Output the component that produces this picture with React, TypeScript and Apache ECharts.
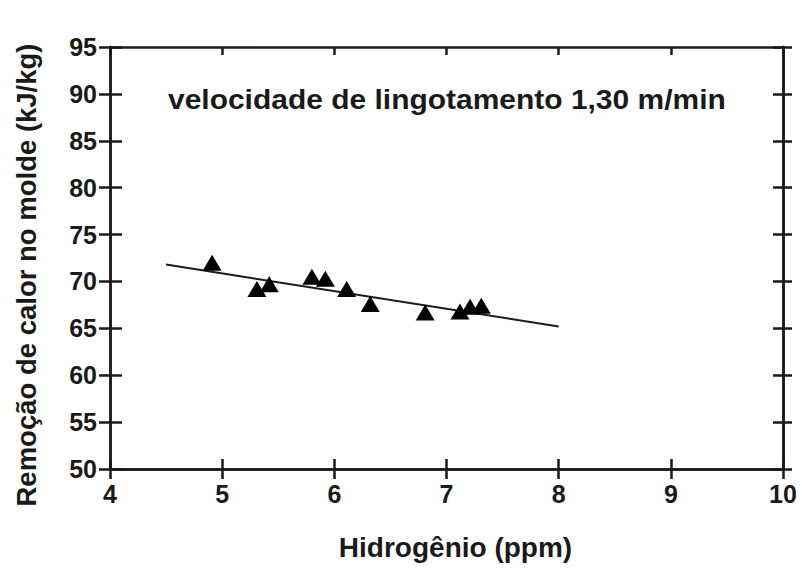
import React, { useEffect, useRef } from "react";
import * as echarts from "echarts";

const hydrogen = [4.91, 5.31, 5.42, 5.8, 5.92, 6.11, 6.32, 6.81, 7.12, 7.21, 7.31];
const heatRemoval = [72.0, 69.2, 69.7, 70.5, 70.3, 69.2, 67.6, 66.7, 66.8, 67.3, 67.4];
const fitX = [4.5, 8];
const fitY = [71.8, 65.2];
const xTicks = [4, 5, 6, 7, 8, 9, 10];
const yTicks = [50, 55, 60, 65, 70, 75, 80, 85, 90, 95];
const titleText = "velocidade de lingotamento 1,30 m/min";
const xName = "Hidrogênio (ppm)";
const yName = "Remoção de calor no molde (kJ/kg)";

const INK = "#1a1a1a";
const FONT = "'Liberation Sans', Arial, sans-serif";

export default function App() {
  const ref = useRef<HTMLDivElement>(null);
  useEffect(() => {
    document.body.style.margin = "0";
    const chart = echarts.init(ref.current!, undefined, { renderer: "svg" });
    const xMin = xTicks[0];
    const xMax = xTicks[xTicks.length - 1];
    const xInt = xTicks[1] - xTicks[0];
    const yMin = yTicks[0];
    const yMax = yTicks[yTicks.length - 1];
    const yInt = yTicks[1] - yTicks[0];
    const baseX = {
      type: "value",
      min: xMin,
      max: xMax,
      interval: xInt,
      splitLine: { show: false },
      axisLine: { show: true, onZero: false, lineStyle: { color: INK, width: 2.5 } },
    };
    const baseY = {
      type: "value",
      min: yMin,
      max: yMax,
      interval: yInt,
      splitLine: { show: false },
      axisLine: { show: true, onZero: false, lineStyle: { color: INK, width: 2.5 } },
    };
    const tick = (inside: boolean, len: number) => ({
      show: true,
      inside,
      length: len,
      lineStyle: { color: INK, width: 2.5 },
    });
    chart.setOption({
      animation: false,
      backgroundColor: "#ffffff",
      grid: { left: 110, right: 19, top: 47, bottom: 100 },
      xAxis: [
        {
          ...baseX,
          position: "bottom",
          axisTick: tick(false, 10),
          axisLabel: {
            show: true,
            margin: 12,
            color: INK,
            fontFamily: FONT,
            fontSize: 25,
            fontWeight: "bold",
          },
          name: xName,
          nameLocation: "middle",
          nameGap: 64,
          nameTextStyle: {
            color: INK,
            fontFamily: FONT,
            fontSize: 28,
            fontWeight: "bold",
            padding: [0, 0, 0, 18],
          },
        },
        { ...baseX, position: "bottom", axisTick: tick(true, 10), axisLabel: { show: false } },
        { ...baseX, position: "top", axisTick: tick(true, 8), axisLabel: { show: false } },
      ],
      yAxis: [
        {
          ...baseY,
          position: "left",
          axisTick: tick(false, 11),
          axisLabel: {
            show: true,
            margin: 13,
            color: INK,
            fontFamily: FONT,
            fontSize: 25,
            fontWeight: "bold",
          },
          name: yName,
          nameLocation: "middle",
          nameGap: 70,
          nameRotate: 90,
          nameTextStyle: {
            color: INK,
            fontFamily: FONT,
            fontSize: 27.5,
            fontWeight: "bold",
            padding: [0, 34, 0, 0],
          },
        },
        { ...baseY, position: "left", axisTick: tick(true, 12), axisLabel: { show: false } },
        { ...baseY, position: "right", axisTick: tick(false, 9), axisLabel: { show: false } },
        { ...baseY, position: "right", axisTick: tick(true, 10), axisLabel: { show: false } },
      ],
      graphic: [
        {
          type: "text",
          x: 168,
          y: 100,
          scaleX: 1.11,
          style: {
            text: titleText,
            fill: INK,
            font: `bold 27px ${FONT}`,
            textVerticalAlign: "middle",
            verticalAlign: "middle",
          },
        },
      ],
      series: [
        {
          type: "line",
          xAxisIndex: 0,
          yAxisIndex: 0,
          data: fitX.map((x, i) => [x, fitY[i]]),
          showSymbol: false,
          lineStyle: { color: INK, width: 2 },
          silent: true,
          z: 2,
        },
        {
          type: "scatter",
          xAxisIndex: 0,
          yAxisIndex: 0,
          data: hydrogen.map((x, i) => [x, heatRemoval[i]]),
          symbol: "triangle",
          symbolSize: [19, 16],
          itemStyle: { color: "#000000", opacity: 1 },
          z: 3,
        },
      ],
    });
    return () => chart.dispose();
  }, []);
  return <div ref={ref} style={{ width: 802, height: 569 }} />;
}
